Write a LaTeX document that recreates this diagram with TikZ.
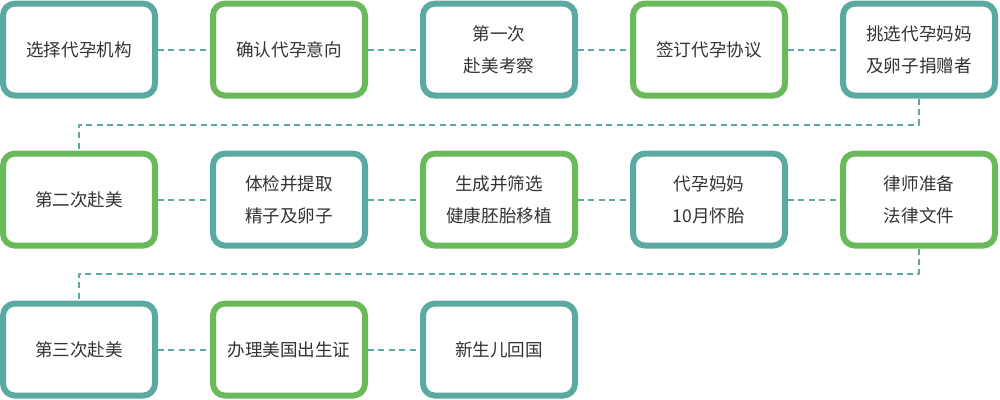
\documentclass[tikz,border=0pt]{standalone}
\usepackage{fontspec}
\newfontfamily\cjk{Noto Sans CJK SC}
\definecolor{tealc}{RGB}{90,170,162}
\definecolor{greenc}{RGB}{106,185,90}
\definecolor{textc}{RGB}{51,51,51}
\usetikzlibrary{positioning}

\begin{document}
\begin{tikzpicture}[line cap=round, line join=round,
  box/.style={draw, line width=1.5mm, rounded corners=3mm, fill=white,
    minimum width=3.8cm, minimum height=2.3cm, align=center,
    text=textc, font=\cjk\fontsize{12.5}{22.7}\selectfont},
  tealbox/.style={box, draw=tealc},
  greenbox/.style={box, draw=greenc},
  link/.style={tealc, line width=0.5mm, line cap=butt, dash pattern=on 1.5mm off 1.1mm}]
  % Page frame
  \useasboundingbox (0,0) rectangle (25,10);

  % First row
  \node[tealbox]  (p1) at (1.975,8.76) {选择代孕机构};
  \node[greenbox] (p2) at (7.225,8.76) {确认代孕意向};
  \node[tealbox]  (p3) at (12.475,8.76) {第一次\\赴美考察};
  \node[greenbox] (p4) at (17.725,8.76) {签订代孕协议};
  \node[tealbox]  (p5) at (22.975,8.76) {挑选代孕妈妈\\及卵子捐赠者};

  % Second row
  \node[greenbox] (p6) at (1.975,5.01) {第二次赴美};
  \node[tealbox]  (p7) at (7.225,5.01) {体检并提取\\精子及卵子};
  \node[greenbox] (p8) at (12.475,5.01) {生成并筛选\\健康胚胎移植};
  \node[tealbox]  (p9) at (17.725,5.01) {代孕妈妈\\10月怀胎};
  \node[greenbox] (p10) at (22.975,5.01) {律师准备\\法律文件};

  % Third row
  \node[tealbox]  (p11) at (1.975,1.26) {第三次赴美};
  \node[greenbox] (p12) at (7.225,1.26) {办理美国出生证};
  \node[tealbox]  (p13) at (12.475,1.26) {新生儿回国};

  % Dashed links inside the rows
  \draw[link] (p1) -- (p2);
  \draw[link] (p2) -- (p3);
  \draw[link] (p3) -- (p4);
  \draw[link] (p4) -- (p5);
  \draw[link] (p6) -- (p7);
  \draw[link] (p7) -- (p8);
  \draw[link] (p8) -- (p9);
  \draw[link] (p9) -- (p10);
  \draw[link] (p11) -- (p12);
  \draw[link] (p12) -- (p13);

  % Dashed links between the rows
  \draw[link] (p5.south) -- ++(0,-0.65) -| (p6.north);
  \draw[link] (p10.south) -- ++(0,-0.63) -| (p11.north);
\end{tikzpicture}
\end{document}
